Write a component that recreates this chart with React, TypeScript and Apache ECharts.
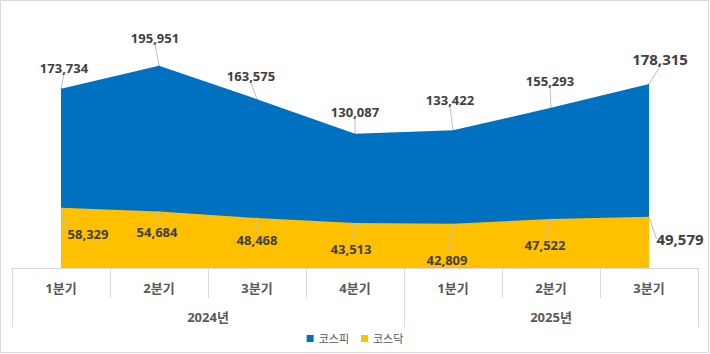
import React, { useEffect, useRef } from "react";
import * as echarts from "echarts";

const quarters = ["1분기", "2분기", "3분기", "4분기", "1분기", "2분기", "3분기"];
const years = ["2024년", "2025년"];
const yearSpans = [4, 3];
const kospi = [173734, 195951, 163575, 130087, 133422, 155293, 178315];
const kosdaq = [58329, 54684, 48468, 43513, 42809, 47522, 49579];
const seriesNames = ["코스피", "코스닥"];

// label offsets (layout only)
const kospiOffsets = [
  [3, -14], [-4, -21], [-6, -16], [0, -15], [-3, -23], [-1, -20], [11, -17],
];
const kosdaqOffsets = [
  [27, 33], [-2, 27], [0, 29], [-4, 33], [-6, 43], [-6, 33], [31, 30],
];

const FONT = "'Noto Sans', 'Noto Sans CJK KR', sans-serif";

export default function App() {
  const ref = useRef<HTMLDivElement>(null);
  useEffect(() => {
    if (!ref.current) return;
    const chart = echarts.init(ref.current, null, { renderer: "svg" });

    const yearIndex: number[] = [];
    years.forEach((y, i) => {
      for (let k = 0; k < yearSpans[i]; k++) yearIndex.push(i);
    });
    const categories = quarters.map((q, i) => `${years[yearIndex[i]]}|${q}`);
    const bounds: number[] = [0];
    yearSpans.forEach((s) => bounds.push(bounds[bounds.length - 1] + s));
    const centers = yearSpans.map((s, i) => bounds[i] + s / 2);

    const mkData = (vals: number[]) =>
      vals.map((v, i) =>
        i === vals.length - 1 ? { value: v, label: { fontSize: 15 } } : { value: v }
      );

    const labelBase = {
      show: true,
      position: "top",
      distance: 0,
      color: "#404040",
      fontWeight: "bold",
      fontSize: 13,
      fontFamily: FONT,
      formatter: (p: any) => Number(p.value).toLocaleString("en-US"),
    };

    chart.setOption({
      animation: false,
      textStyle: { fontFamily: FONT },
      graphic: [
        {
          type: "rect",
          shape: { x: 0.5, y: 0.5, width: 708, height: 352 },
          style: { fill: "none", stroke: "#d9d9d9", lineWidth: 1 },
          silent: true,
        },
      ],
      legend: {
        bottom: 5,
        left: "center",
        icon: "rect",
        itemWidth: 7,
        itemHeight: 7,
        itemGap: 12,
        textStyle: { fontSize: 11, color: "#595959", fontFamily: FONT },
        data: seriesNames,
      },
      grid: { left: 12, right: 12, top: 10, bottom: 86 },
      xAxis: [
        {
          type: "category",
          data: categories,
          boundaryGap: true,
          axisLine: { show: true, lineStyle: { color: "#d9d9d9" } },
          axisTick: { show: true, length: 30, interval: 0, lineStyle: { color: "#d9d9d9" } },
          axisLabel: {
            interval: 0,
            margin: 13,
            fontSize: 13,
            fontWeight: "bold",
            color: "#595959",
            fontFamily: FONT,
            formatter: (v: string) => v.split("|")[1],
          },
        },
        {
          type: "value",
          min: 0,
          max: bounds[bounds.length - 1],
          position: "bottom",
          splitLine: { show: false },
          axisLine: { show: true, lineStyle: { color: "#d9d9d9" } },
          axisTick: {
            show: true,
            length: 59,
            customValues: bounds,
            lineStyle: { color: "#d9d9d9" },
          },
          axisLabel: {
            customValues: centers,
            margin: 42,
            fontSize: 13,
            fontWeight: "bold",
            color: "#595959",
            fontFamily: FONT,
            formatter: (v: number) => {
              const i = centers.findIndex((c) => Math.abs(c - v) < 1e-6);
              return i >= 0 ? years[i] : "";
            },
          },
        },
      ],
      yAxis: {
        type: "value",
        min: 0,
        max: 250000,
        show: false,
        splitLine: { show: false },
      },
      series: [
        {
          name: seriesNames[0],
          type: "line",
          data: mkData(kospi),
          symbol: "circle",
          symbolSize: 1,
          itemStyle: { color: "#0070C0" },
          lineStyle: { width: 0 },
          areaStyle: { color: "#0070C0", opacity: 1 },
          label: labelBase,
          labelLine: { show: true, lineStyle: { color: "#bfbfbf", width: 1 } },
          labelLayout: (p: any) => ({
            dx: kospiOffsets[p.dataIndex][0],
            dy: kospiOffsets[p.dataIndex][1],
          }),
          z: 2,
        },
        {
          name: seriesNames[1],
          type: "line",
          data: mkData(kosdaq),
          symbol: "circle",
          symbolSize: 1,
          itemStyle: { color: "#FFC000" },
          lineStyle: { width: 0 },
          areaStyle: { color: "#FFC000", opacity: 1 },
          label: labelBase,
          labelLine: { show: true, lineStyle: { color: "#bfbfbf", width: 1 } },
          labelLayout: (p: any) => ({
            dx: kosdaqOffsets[p.dataIndex][0],
            dy: kosdaqOffsets[p.dataIndex][1],
          }),
          z: 3,
        },
      ],
    });
    return () => chart.dispose();
  }, []);
  return (
    <div
      ref={ref}
      style={{ position: "fixed", left: 0, top: 0, width: 710, height: 354, background: "#fff" }}
    />
  );
}
